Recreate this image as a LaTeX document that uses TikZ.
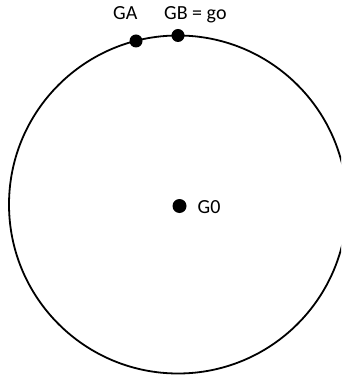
\documentclass[tikz,border=0pt]{standalone}
\usepackage{fontspec}
\setmainfont{Carlito}
\begin{document}
\begin{tikzpicture}[x=1pt,y=-1pt,
  dot/.style={circle,fill=black,inner sep=0pt,minimum size=13pt},
  lbl/.style={inner sep=0pt,anchor=base west,font=\fontsize{20}{24}\selectfont}]
\useasboundingbox (0,0) rectangle (341,379);
\clip (0,0) rectangle (341,379);
\fill[white] (0,0) rectangle (341,379);
\node[circle,draw,line width=1.8pt,minimum size=338pt,inner sep=0pt] (c) at (178,204.5) {};
\node[dot] (ga) at (136,41) {};
\node[dot] (gb) at (178,35.5) {};
\node[dot,minimum size=14pt] (g0) at (179.5,206) {};
\node[lbl] (tga) at (113,20) {GA};
\node[lbl] (tgb) at (164,20) {GB = go};
\node[lbl] (tg0) at (197.5,213) {G0};
\end{tikzpicture}
\end{document}
